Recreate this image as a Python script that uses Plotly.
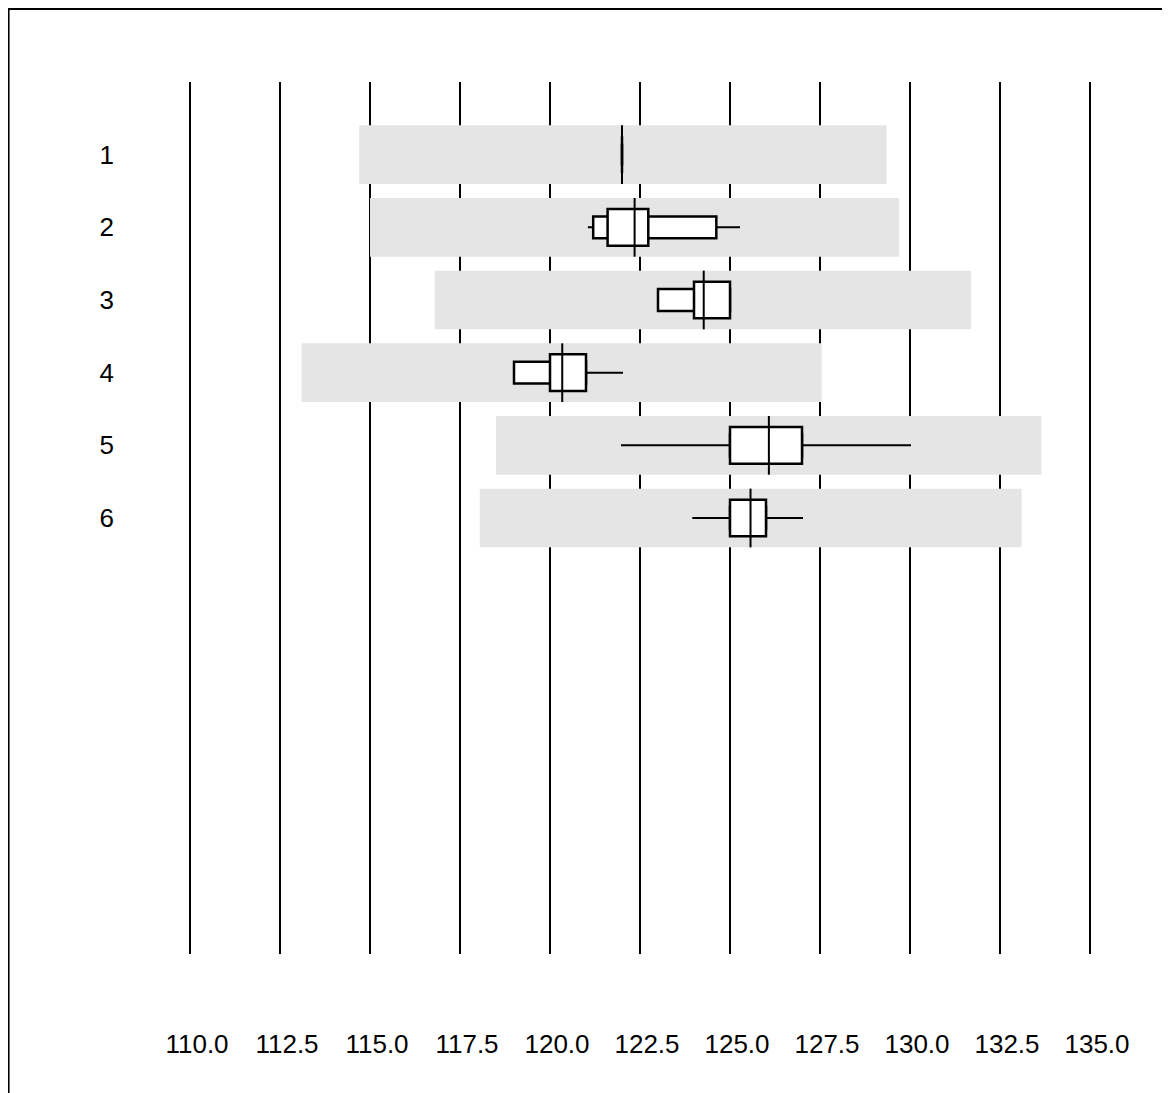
import plotly.graph_objects as go

rows = [1, 2, 3, 4, 5, 6]
row_labels = ["1", "2", "3", "4", "5", "6"]

# grey reference range for each row
band_low = [114.7, 115.0, 116.8, 113.1, 118.5, 118.05]
band_high = [129.35, 129.7, 131.7, 127.55, 133.65, 133.1]

# whiskers, outer (narrow) box, inner (tall) box, median
whisker_low = [122.0, 121.08, 123.0, 119.0, 122.0, 123.98]
whisker_high = [122.0, 125.25, 125.0, 122.0, 130.0, 127.0]
outer_low = [122.0, 121.2, 123.0, 119.0, 125.0, 125.0]
outer_high = [122.0, 124.62, 125.0, 121.0, 127.0, 126.0]
inner_low = [122.0, 121.6, 124.0, 120.0, 125.0, 125.0]
inner_high = [122.0, 122.73, 125.0, 121.0, 127.0, 126.0]
median = [122.0, 122.35, 124.27, 120.34, 126.08, 125.57]

x_ticks = [110.0, 112.5, 115.0, 117.5, 120.0, 122.5, 125.0, 127.5, 130.0, 132.5, 135.0]

band_w = 0.808
outer_w = 0.30
inner_w = 0.505


def hbar(lo, hi, width, fill, line_w):
    return go.Bar(
        y=rows, base=lo, x=[h - l for l, h in zip(lo, hi)],
        orientation="h", width=width,
        marker=dict(color=fill, line=dict(color="black", width=line_w)),
        hoverinfo="skip", showlegend=False)


fig = go.Figure()
fig.add_trace(hbar(band_low, band_high, band_w, "#e5e5e5", 0))
# whiskers as zero-height bars so the white boxes cover them
fig.add_trace(hbar(whisker_low, whisker_high, 0.001, "black", 2))
fig.add_trace(hbar(outer_low, outer_high, outer_w, "white", 2.5))
fig.add_trace(hbar(inner_low, inner_high, inner_w, "white", 2.5))

mx, my = [], []
for r, m in zip(rows, median):
    mx += [m, m, None]
    my += [r - band_w / 2, r + band_w / 2, None]
fig.add_trace(go.Scatter(x=mx, y=my, mode="lines", line=dict(color="black", width=2),
                         hoverinfo="skip", showlegend=False))

fig.update_layout(
    width=1162, height=1085,
    margin=dict(l=164.4, r=61.6, t=74, b=139, pad=0),
    paper_bgcolor="white", plot_bgcolor="white",
    barmode="overlay",
    font=dict(family="Liberation Sans, Arial, sans-serif", size=26, color="black"),
    xaxis=dict(range=[109.5, 135.5], tickvals=x_ticks,
               ticktext=["%.1f" % t for t in x_ticks],
               showgrid=True, gridcolor="black", gridwidth=2,
               zeroline=False, showline=False, ticks="",
               ticklabelstandoff=72, ticklabelshift=7),
    yaxis=dict(range=[12, 0], tickvals=rows, ticktext=row_labels,
               showgrid=False, zeroline=False, showline=False, ticks="",
               ticklabelstandoff=57),
    shapes=[dict(type="rect", xref="paper", yref="paper",
                 x0=-0.1746, x1=1.3, y0=-0.4, y1=1.0837,
                 line=dict(color="black", width=2), fillcolor="rgba(0,0,0,0)",
                 layer="below")],
)

fig.write_html("out.html")
